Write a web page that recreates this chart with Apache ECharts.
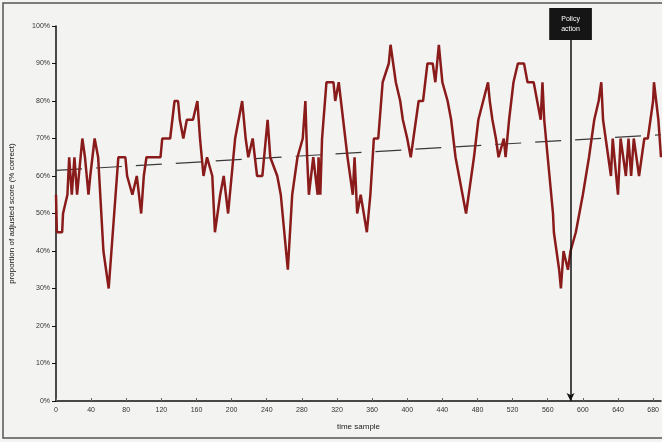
<!DOCTYPE html>
<html>
<head>
<meta charset="utf-8">
<script src="https://cdn.jsdelivr.net/npm/echarts@6/dist/echarts.min.js"></script>
<style>
  html, body { margin: 0; padding: 0; background: #f3f3f1; }
  #chart { width: 662px; height: 442px; }
</style>
</head>
<body>
<div id="chart"></div>
<script>
// sample index along the x axis
var sampleX = [0, 1, 7, 8, 13, 15, 18, 21, 24, 30, 33, 37, 39, 44, 48, 54, 60, 71, 79, 81,
  87, 92, 97, 100, 103, 119, 121, 130, 135, 139, 141, 145, 149, 156, 161, 164, 168, 172, 178, 181,
  187, 191, 196, 202, 204, 212, 216, 219, 224, 229, 235, 241, 244, 252, 256, 264, 269, 275, 281, 284,
  286, 288, 293, 298, 299, 301, 303, 308, 316, 318, 322, 327, 332, 338, 340, 343, 347, 354, 358, 362,
  367, 372, 379, 381, 384, 387, 392, 395, 400, 404, 410, 413, 418, 423, 429, 432, 436, 440, 446, 450,
  455, 459, 467, 470, 476, 481, 492, 494, 497, 501, 504, 510, 512, 516, 521, 526, 533, 537, 544, 552,
  554, 556, 560, 566, 567, 573, 575, 578, 583, 586, 592, 600, 607, 613, 618, 621, 623, 626, 632, 634,
  640, 643, 649, 652, 655, 658, 664, 670, 674, 680, 681, 686, 689];
// percent values
var pctY = [55, 45, 45, 50, 55, 65, 55, 65, 55, 70, 65, 55, 60, 70, 65, 40, 30, 65, 65, 60,
  55, 60, 50, 60, 65, 65, 70, 70, 80, 80, 75, 70, 75, 75, 80, 70, 60, 65, 60, 45,
  55, 60, 50, 65, 70, 80, 70, 65, 70, 60, 60, 75, 65, 60, 55, 35, 55, 65, 70, 80,
  65, 55, 65, 55, 65, 55, 70, 85, 85, 80, 85, 75, 65, 55, 65, 50, 55, 45, 55, 70,
  70, 85, 90, 95, 90, 85, 80, 75, 70, 65, 75, 80, 80, 90, 90, 85, 95, 85, 80, 75,
  65, 60, 50, 55, 65, 75, 85, 80, 75, 70, 65, 70, 65, 75, 85, 90, 90, 85, 85, 75,
  85, 75, 65, 50, 45, 35, 30, 40, 35, 40, 45, 55, 65, 75, 80, 85, 75, 70, 60, 70,
  55, 70, 60, 70, 60, 70, 60, 70, 70, 80, 85, 75, 65];
// dashed trend line end points
var trendX = [0, 689];
var trendY = [61.5, 71];
// policy marker position
var policyX = 586;
var policyLabel = 'Policy\naction';

var chart = echarts.init(document.getElementById('chart'));

var lineData = [];
for (var i = 0; i < sampleX.length; i++) {
  lineData.push([sampleX[i], pctY[i]]);
}
var trendData = [[trendX[0], trendY[0]], [trendX[1], trendY[1]]];

var option = {
  backgroundColor: '#f3f3f1',
  animation: false,
  grid: { left: 56, right: 1, top: 26, bottom: 41 },
  graphic: [{
    type: 'rect',
    shape: { x: 3, y: 3, width: 662, height: 435 },
    style: { fill: 'none', stroke: '#555', lineWidth: 1.5 },
    silent: true
  }],
  xAxis: {
    type: 'value',
    min: 0,
    max: 689,
    interval: 40,
    name: 'time sample',
    nameLocation: 'middle',
    nameGap: 22,
    nameTextStyle: { fontSize: 8, color: '#222', fontFamily: 'Liberation Sans' },
    axisLine: { lineStyle: { color: '#111', width: 1.5 } },
    axisTick: { inside: true, length: 3, lineStyle: { color: '#666' } },
    axisLabel: { fontSize: 7, color: '#333', fontFamily: 'Liberation Sans', showMaxLabel: false, margin: 6 },
    splitLine: { show: false }
  },
  yAxis: {
    type: 'value',
    min: 0,
    max: 100,
    interval: 10,
    name: 'proportion of adjusted score (% correct)',
    nameLocation: 'middle',
    nameGap: 40,
    nameTextStyle: { fontSize: 8, color: '#111', fontFamily: 'Liberation Sans' },
    axisLine: { show: true, lineStyle: { color: '#111', width: 1.5 } },
    axisTick: { show: true, length: 4, lineStyle: { color: '#111' } },
    axisLabel: { formatter: '{value}%', fontSize: 7, color: '#333', fontFamily: 'Liberation Sans', margin: 6 },
    splitLine: { show: false }
  },
  series: [
    {
      name: 'trend',
      type: 'line',
      data: trendData,
      symbol: 'none',
      lineStyle: { color: '#3a3a3a', width: 1.2, type: [26, 14] },
      z: 1
    },
    {
      name: 'score',
      type: 'line',
      data: lineData,
      symbol: 'none',
      lineStyle: { color: '#8a1b1b', width: 2.5 },
      z: 2,
      markLine: {
        silent: true,
        symbol: ['arrow', 'none'],
        symbolSize: [6, 8],
        lineStyle: { color: '#111', width: 1.5, type: 'solid' },
        label: {
          show: true,
          position: 'end',
          distance: -14,
          formatter: policyLabel,
          color: '#fff',
          backgroundColor: '#151515',
          fontSize: 7,
          lineHeight: 10,
          padding: [6, 12],
          fontFamily: 'Liberation Sans'
        },
        data: [{ xAxis: policyX }]
      }
    }
  ]
};

chart.setOption(option);
</script>
</body>
</html>
